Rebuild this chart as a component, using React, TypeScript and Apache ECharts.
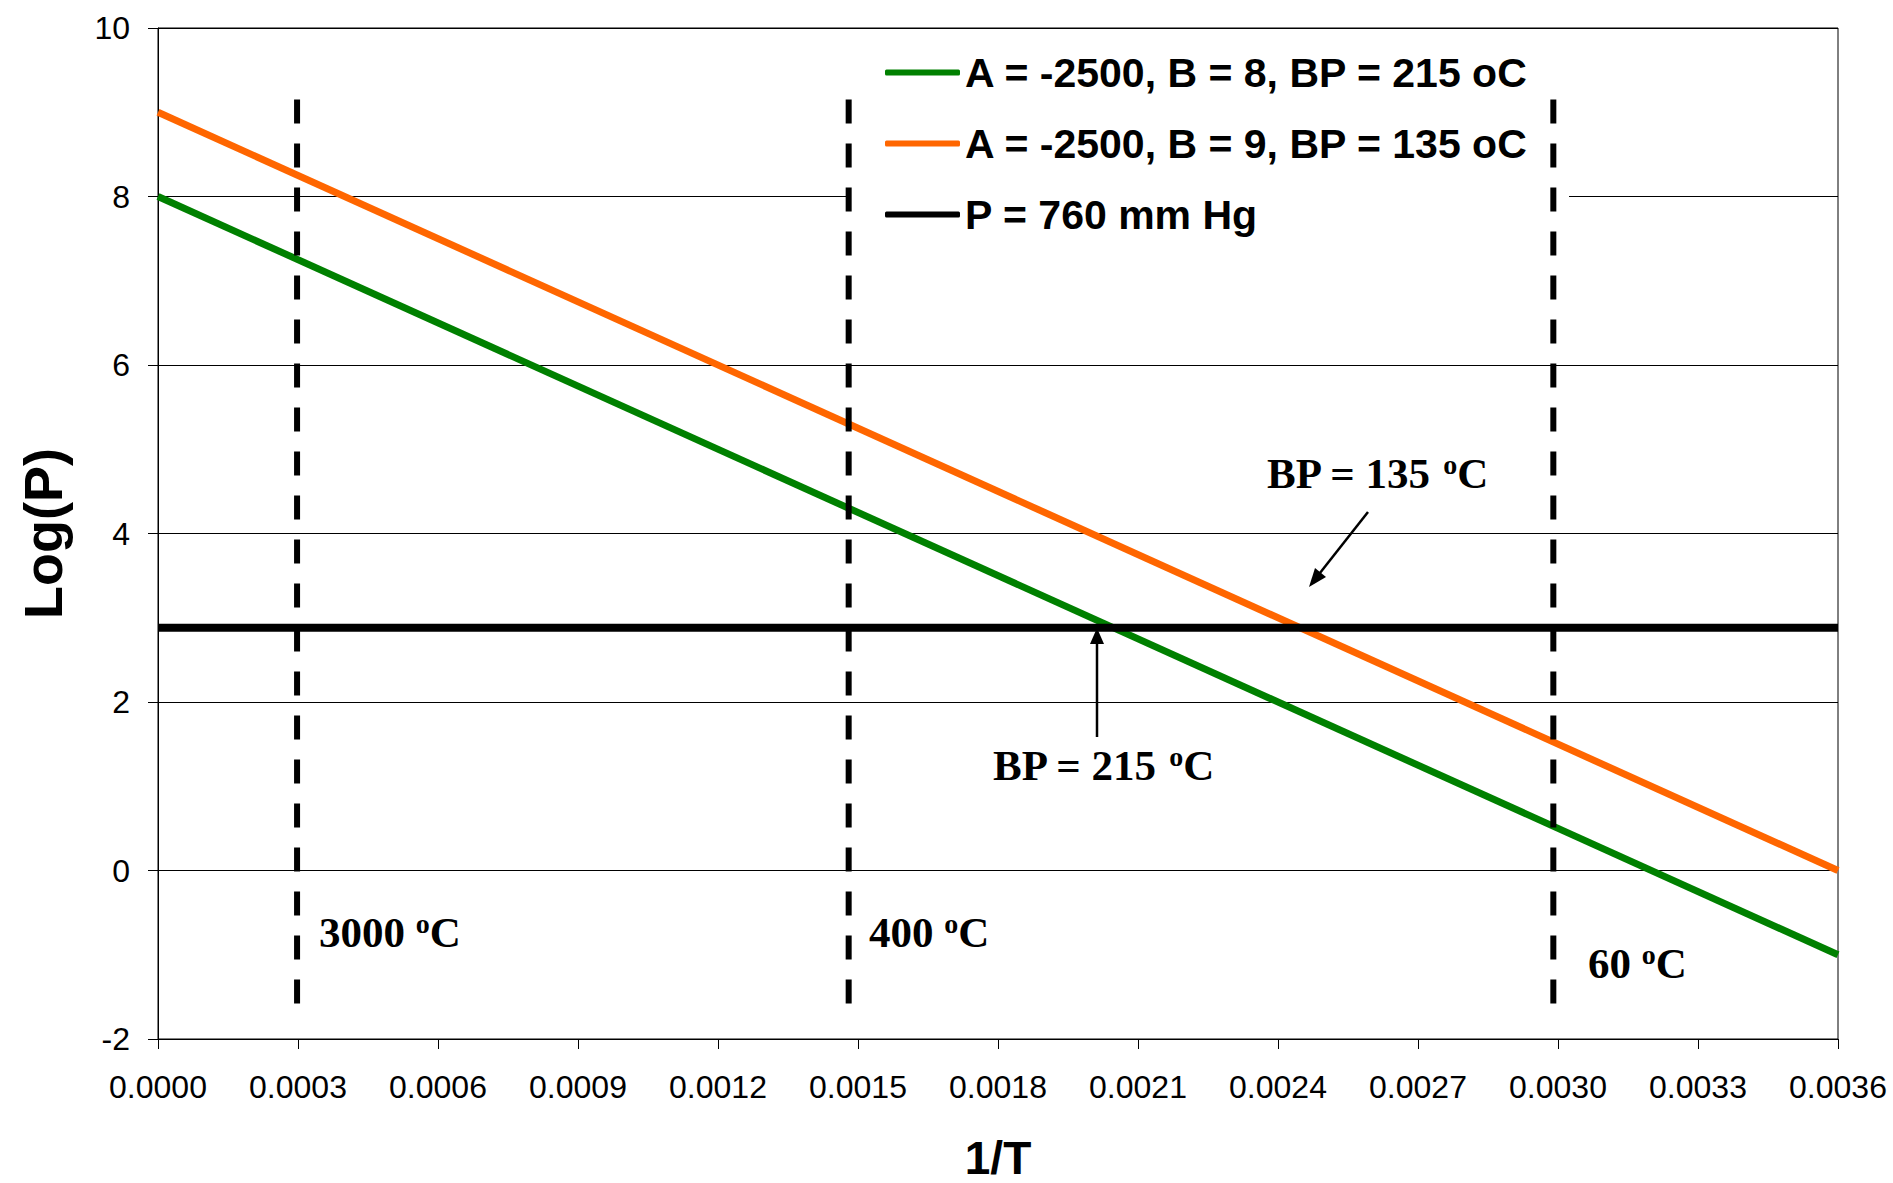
import React, { useEffect, useRef } from "react";
import * as echarts from "echarts";

// ---- data ----
const seriesNames = [
  "A = -2500, B = 8, BP = 215 oC",
  "A = -2500, B = 9, BP = 135 oC",
  "P = 760 mm Hg",
];
const greenLine: [number, number][] = [
  [0, 8],
  [0.0036, -1],
];
const orangeLine: [number, number][] = [
  [0, 9],
  [0.0036, 0],
];
const pressureLine: [number, number][] = [
  [0, 2.88],
  [0.0036, 2.88],
];
const markerX = [0.000298, 0.00148, 0.00299];
const markerYRange = [9.15, -1.75];

const xMin = 0;
const xMax = 0.0036;
const xStep = 0.0003;
const yMin = -2;
const yMax = 10;
const yStep = 2;

const serif = "'Liberation Serif', 'Times New Roman', serif";
const sans = "'Liberation Sans', Arial, sans-serif";

function degText(label: string) {
  return `{n|${label} }{s|o}{n|C}`;
}
const richDeg = {
  n: { fontFamily: serif, fontWeight: "bold", fontSize: 43, lineHeight: 46, fill: "#000", color: "#000" },
  s: { fontFamily: serif, fontWeight: "bold", fontSize: 28, lineHeight: 46, verticalAlign: "top", fill: "#000", color: "#000" },
};

function annot(label: string, x: number, y: number) {
  return {
    type: "text",
    x,
    y,
    z: 100,
    style: {
      text: degText(label),
      rich: richDeg,
      verticalAlign: "middle",
      align: "left",
      fill: "#000",
    },
  };
}

export default function App() {
  const ref = useRef<HTMLDivElement>(null);
  useEffect(() => {
    if (!ref.current) return;
    const chart = echarts.init(ref.current, undefined, { renderer: "svg" });
    const markerSeries = markerX.map((x, i) => ({
      type: "line",
      name: "marker" + i,
      data: [
        [x, markerYRange[0]],
        [x, markerYRange[1]],
      ],
      showSymbol: false,
      silent: true,
      z: 6,
      lineStyle: { color: "#000", width: 6, type: [24, 20] },
    }));
    chart.setOption({
      animation: false,
      backgroundColor: "#fff",
      grid: {
        left: 158,
        top: 28,
        right: 55,
        bottom: 144,
        containLabel: false,
        outerBoundsMode: "none",
        show: true,
        borderColor: "#000",
        borderWidth: 1,
        backgroundColor: "transparent",
      },
      legend: {
        data: seriesNames,
        orient: "vertical",
        left: 851,
        top: 40,
        padding: [12, 40, 12, 34],
        backgroundColor: "#fff",
        itemWidth: 75,
        itemHeight: 6,
        itemGap: 30,
        icon: "roundRect",
        textStyle: {
          fontFamily: sans,
          fontWeight: "bold",
          fontSize: 41,
          lineHeight: 40,
          color: "#000",
          padding: [0, 0, 0, 0],
        },
      },
      xAxis: {
        type: "value",
        min: xMin,
        max: xMax,
        interval: xStep,
        name: "1/T",
        nameLocation: "middle",
        nameGap: 96,
        nameTextStyle: { fontFamily: sans, fontWeight: "bold", fontSize: 46, lineHeight: 46, color: "#000" },
        axisLine: { show: true, onZero: false, lineStyle: { color: "#000", width: 1 } },
        axisTick: { show: true, inside: false, length: 10, lineStyle: { color: "#000" } },
        splitLine: { show: false },
        axisLabel: {
          margin: 32,
          fontFamily: sans,
          fontSize: 32,
          color: "#000",
          formatter: (v: number) => v.toFixed(4),
        },
      },
      yAxis: {
        type: "value",
        min: yMin,
        max: yMax,
        interval: yStep,
        name: "Log(P)",
        nameLocation: "middle",
        nameRotate: 90,
        nameGap: 88,
        nameTextStyle: { fontFamily: sans, fontWeight: "bold", fontSize: 54, color: "#000" },
        axisLine: { show: true, lineStyle: { color: "#000", width: 1 } },
        axisTick: { show: true, inside: false, length: 10, lineStyle: { color: "#000" } },
        splitLine: { show: true, lineStyle: { color: "#000", width: 1 } },
        axisLabel: {
          margin: 28,
          fontFamily: sans,
          fontSize: 32,
          color: "#000",
        },
      },
      series: [
        ...markerSeries,
        {
          type: "line",
          name: seriesNames[0],
          data: greenLine,
          showSymbol: false,
          z: 5,
          color: "#008000",
          lineStyle: { color: "#008000", width: 7 },
        },
        {
          type: "line",
          name: seriesNames[1],
          data: orangeLine,
          showSymbol: false,
          z: 5,
          color: "#FF6600",
          lineStyle: { color: "#FF6600", width: 7 },
        },
        {
          type: "line",
          name: seriesNames[2],
          data: pressureLine,
          showSymbol: false,
          z: 7,
          color: "#000",
          lineStyle: { color: "#000", width: 8 },
        },
      ],
      graphic: [
        annot("BP = 135", 1267, 473),
        annot("BP = 215", 993, 765),
        annot("3000", 319, 932),
        annot("400", 869, 932),
        annot("60", 1588, 963),
        // arrow to 215 crossing
        { type: "line", z: 100, shape: { x1: 1097, y1: 737, x2: 1097, y2: 640 }, style: { stroke: "#000", lineWidth: 2.5 } },
        { type: "polygon", z: 100, shape: { points: [[1097, 628], [1090, 644], [1104, 644]] }, style: { fill: "#000" } },
        // arrow to 135 crossing
        { type: "line", z: 100, shape: { x1: 1368, y1: 512, x2: 1316, y2: 578 }, style: { stroke: "#000", lineWidth: 2.5 } },
        { type: "polygon", z: 100, shape: { points: [[1309, 587], [1326, 577], [1315, 568]] }, style: { fill: "#000" } },
      ],
    });
    return () => chart.dispose();
  }, []);
  return (
    <div
      ref={ref}
      style={{ position: "absolute", left: 0, top: 0, width: 1893, height: 1183, background: "#fff" }}
    />
  );
}
